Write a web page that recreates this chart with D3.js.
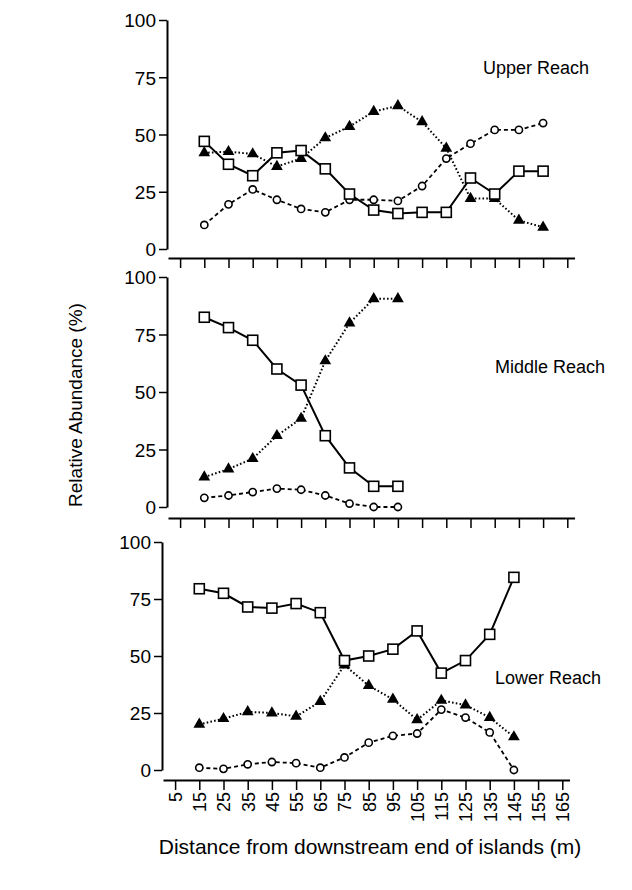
<!DOCTYPE html>
<html>
<head>
<meta charset="utf-8">
<script src="https://cdn.jsdelivr.net/npm/d3@7"></script>
<style>
body { margin: 0; background: #fff; }
svg text { font-family: "Liberation Sans", Arial, sans-serif; fill: #000; }
</style>
</head>
<body>
<svg width="632" height="890"></svg>
<script>
// distances (m)
var xUpper = [15, 25, 35, 45, 55, 65, 75, 85, 95, 105, 115, 125, 135, 145, 155];
var xMiddle = [15, 25, 35, 45, 55, 65, 75, 85, 95];
var xLower = [15, 25, 35, 45, 55, 65, 75, 85, 95, 105, 115, 125, 135, 145];

var upperSquare = [47, 37, 32, 42, 43, 35, 24, 17, 15.5, 16, 16, 31, 24, 34, 34];
var upperTriangle = [42, 42.5, 41.5, 36, 39.5, 48.5, 53.5, 60, 62.5, 55.5, 44, 22, 22, 12.5, 9.5];
var upperCircle = [10.5, 19.5, 26, 21.5, 17.5, 16, 21.5, 21.5, 21, 27.5, 39.5, 46, 52, 52, 55];

var middleSquare = [82.5, 78, 72.5, 60, 53, 31, 17, 9, 9];
var middleTriangle = [13, 16.5, 21, 31, 38.5, 63.5, 80, 90.5, 90.5];
var middleCircle = [4, 5, 6.5, 8, 7.5, 5, 1.5, 0, 0];

var lowerSquare = [79.5, 77.5, 71.5, 71, 73, 69, 48, 50, 53, 61, 42.5, 48, 59.5, 84.5];
var lowerTriangle = [20, 22.5, 25.5, 25, 23.5, 30, 46, 37, 31, 22, 30.5, 28.5, 23, 14.5];
var lowerCircle = [1, 0.5, 2.5, 3.5, 3, 1, 5.5, 12, 15, 16, 26.5, 23, 16.5, 0];

var yTicks = [0, 25, 50, 75, 100];
var xTicks = [5, 15, 25, 35, 45, 55, 65, 75, 85, 95, 105, 115, 125, 135, 145, 155, 165];

var svg = d3.select("svg");

var panels = [
  {name: "Upper Reach", xs: xUpper, sq: upperSquare, tri: upperTriangle, cir: upperCircle,
   left: 167, top: 20, bottom: 249, axisY: 258, labelX: 483, labelY: 74, xlabels: false},
  {name: "Middle Reach", xs: xMiddle, sq: middleSquare, tri: middleTriangle, cir: middleCircle,
   left: 167, top: 277, bottom: 507, axisY: 518, labelX: 495, labelY: 373, xlabels: false},
  {name: "Lower Reach", xs: xLower, sq: lowerSquare, tri: lowerTriangle, cir: lowerCircle,
   left: 162, top: 542, bottom: 770, axisY: 780, labelX: 495, labelY: 684, xlabels: true}
];

panels.forEach(function(p) {
  var x = d3.scaleLinear().domain([0, 168]).range([p.left + 1, p.left + 1 + 16.8 * 24.2]);
  var y = d3.scaleLinear().domain([0, 100]).range([p.bottom, p.top]);
  var g = svg.append("g");

  var ya = g.append("g").attr("transform", "translate(" + p.left + ",0)")
    .call(d3.axisLeft(y).tickValues(yTicks).tickSize(8).tickSizeOuter(0).tickPadding(3));
  ya.select(".domain").attr("stroke-width", 2);
  ya.selectAll(".tick line").attr("stroke-width", 1.5);
  ya.selectAll("text").style("font-size", "19px").attr("dy", "0.36em");

  var xa = g.append("g").attr("transform", "translate(0," + p.axisY + ")")
    .call(d3.axisBottom(x).tickValues(xTicks).tickSize(10).tickSizeOuter(0));
  xa.select(".domain").attr("stroke-width", 2);
  xa.selectAll(".tick line").attr("stroke-width", 1.5);
  if (p.xlabels) {
    xa.selectAll("text").style("font-size", "18px")
      .attr("transform", "rotate(-90)")
      .attr("text-anchor", "end")
      .attr("x", -12).attr("y", 0).attr("dy", "0.35em");
  } else {
    xa.selectAll("text").remove();
  }

  var line = d3.line().x(function(d) { return x(d[0]); }).y(function(d) { return y(d[1]); });
  function pts(vals) { return p.xs.map(function(v, i) { return [v, vals[i]]; }); }

  g.append("path").attr("d", line(pts(p.cir))).attr("fill", "none")
    .attr("stroke", "#000").attr("stroke-width", 1.8).attr("stroke-dasharray", "4,3");
  g.append("path").attr("d", line(pts(p.tri))).attr("fill", "none")
    .attr("stroke", "#000").attr("stroke-width", 2).attr("stroke-dasharray", "1.6,2.2");
  g.append("path").attr("d", line(pts(p.sq))).attr("fill", "none")
    .attr("stroke", "#000").attr("stroke-width", 2);

  g.selectAll(".cir").data(pts(p.cir)).enter().append("circle")
    .attr("cx", function(d) { return x(d[0]); }).attr("cy", function(d) { return y(d[1]); })
    .attr("r", 3.6).attr("fill", "#fff").attr("stroke", "#000").attr("stroke-width", 1.6);
  g.selectAll(".tri").data(pts(p.tri)).enter().append("path")
    .attr("d", d3.symbol().type(d3.symbolTriangle).size(60))
    .attr("transform", function(d) { return "translate(" + x(d[0]) + "," + y(d[1]) + ")"; })
    .attr("fill", "#000");
  g.selectAll(".sq").data(pts(p.sq)).enter().append("rect")
    .attr("x", function(d) { return x(d[0]) - 5; }).attr("y", function(d) { return y(d[1]) - 5; })
    .attr("width", 10).attr("height", 10)
    .attr("fill", "#fff").attr("stroke", "#000").attr("stroke-width", 1.6);

  g.append("text").attr("x", p.labelX).attr("y", p.labelY)
    .style("font-size", "18px").text(p.name);
});

svg.append("text").attr("transform", "translate(82,405) rotate(-90)")
  .attr("text-anchor", "middle").style("font-size", "19px").text("Relative Abundance (%)");
svg.append("text").attr("x", 370).attr("y", 854)
  .attr("text-anchor", "middle").style("font-size", "21px")
  .text("Distance from downstream end of islands (m)");
</script>
</body>
</html>
